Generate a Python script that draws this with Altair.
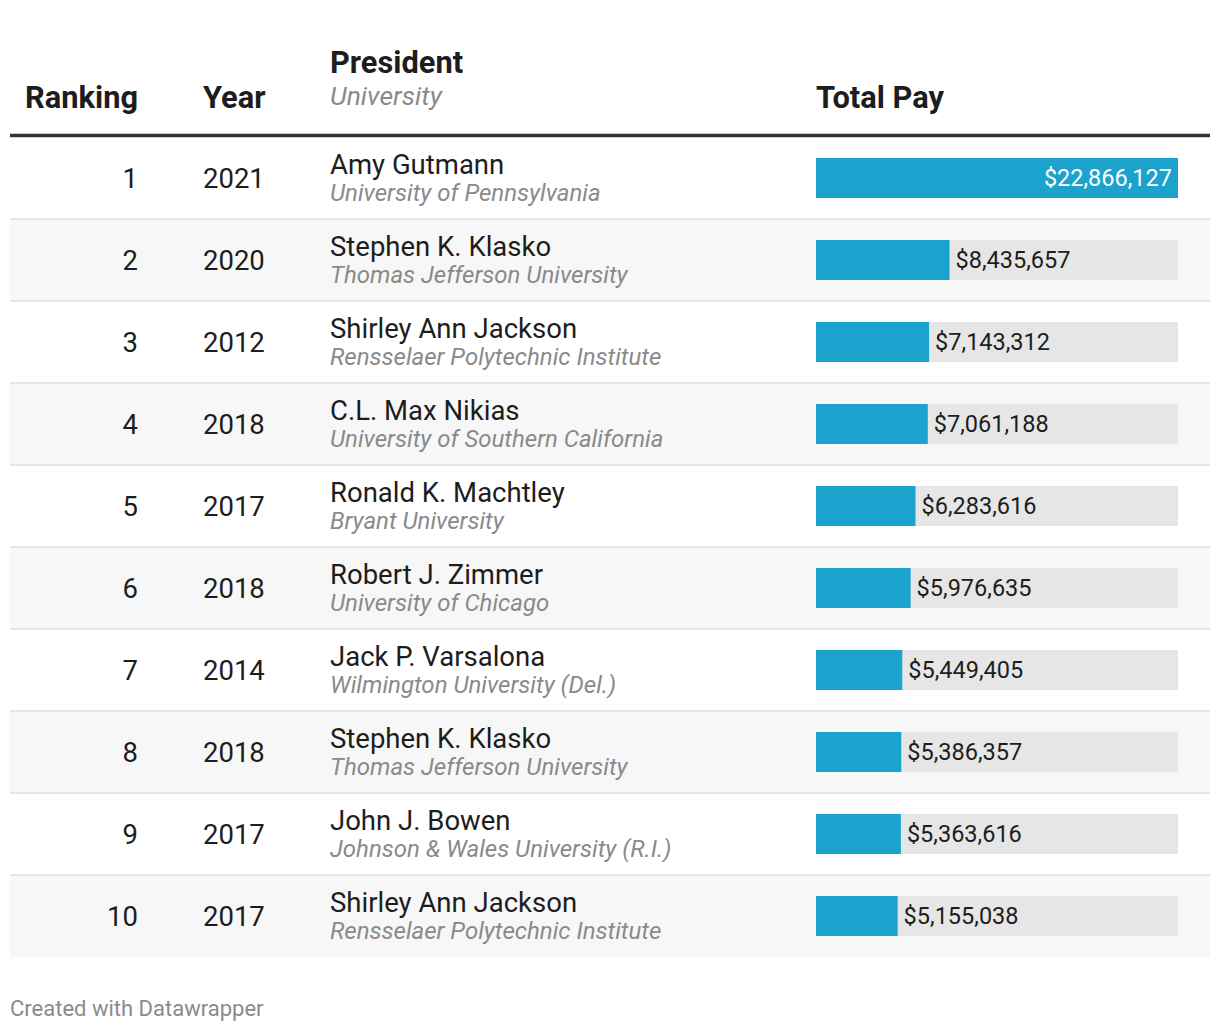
import altair as alt
import pandas as pd

ranks = [1, 2, 3, 4, 5, 6, 7, 8, 9, 10]
years = ["2021", "2020", "2012", "2018", "2017", "2018", "2014", "2018", "2017", "2017"]
presidents = ["Amy Gutmann", "Stephen K. Klasko", "Shirley Ann Jackson", "C.L. Max Nikias",
              "Ronald K. Machtley", "Robert J. Zimmer", "Jack P. Varsalona", "Stephen K. Klasko",
              "John J. Bowen", "Shirley Ann Jackson"]
universities = ["University of Pennsylvania", "Thomas Jefferson University",
                "Rensselaer Polytechnic Institute", "University of Southern California",
                "Bryant University", "University of Chicago", "Wilmington University (Del.)",
                "Thomas Jefferson University", "Johnson & Wales University (R.I.)",
                "Rensselaer Polytechnic Institute"]
total_pay = [22866127, 8435657, 7143312, 7061188, 6283616, 5976635, 5449405, 5386357,
             5363616, 5155038]

header_cols = ["Ranking", "Year", "President", "University", "Total Pay"]
footer_text = "Created with Datawrapper"

df = pd.DataFrame({"rank": ranks, "year": years, "president": presidents,
                   "university": universities, "pay": total_pay})

FONT = "Roboto"
DARK = "#1d1d1d"
GRAY = "#8a8a8a"
BLUE = "#1ba2cd"

# plot origin sits at page (10, 10) via padding 2
OX = 2
yscale = alt.Scale(domain=[1, 10], range=[168, 906], nice=False, zero=False, padding=0)
xscale = alt.Scale(domain=[0, max(total_pay)], range=[806, 1168], nice=False, zero=False,
                   padding=0)

base = alt.Chart(df)
Y = alt.Y("rank:Q", scale=yscale, axis=None)

row_bg = base.transform_filter("datum.rank % 2 == 0").transform_calculate(
    top="datum.rank - 0.5", bottom="datum.rank + 0.5"
).mark_rect(color="#f7f7f7").encode(
    y=alt.Y("top:Q", scale=yscale, axis=None), y2="bottom:Q",
    x=alt.value(0), x2=alt.value(1200))

separators = base.transform_filter("datum.rank < 10").transform_calculate(
    bottom="datum.rank + 0.5"
).mark_rule(color="#e6e6e6", strokeWidth=2).encode(
    y=alt.Y("bottom:Q", scale=yscale, axis=None),
    x=alt.value(0), x2=alt.value(1200))

track = base.transform_joinaggregate(maxpay="max(pay)").mark_bar(
    orient="horizontal", size=40, color="#e6e6e6").encode(
    x=alt.X("maxpay:Q", scale=xscale, axis=None), y=Y)

bars = base.mark_bar(orient="horizontal", size=40, color=BLUE).encode(
    x=alt.X("pay:Q", scale=xscale, axis=None), y=Y)

lab_in = base.transform_joinaggregate(maxpay="max(pay)").transform_filter(
    "datum.pay == datum.maxpay").mark_text(
    font=FONT, fontSize=23.5, color="white", align="right", baseline="alphabetic",
    dx=-6, dy=8).encode(
    x=alt.X("pay:Q", scale=xscale, axis=None), y=Y,
    text=alt.Text("pay:Q", format="$,.0f"))

lab_out = base.transform_joinaggregate(maxpay="max(pay)").transform_filter(
    "datum.pay < datum.maxpay").mark_text(
    font=FONT, fontSize=23.5, color=DARK, align="left", baseline="alphabetic",
    dx=6, dy=8).encode(
    x=alt.X("pay:Q", scale=xscale, axis=None), y=Y,
    text=alt.Text("pay:Q", format="$,.0f"))

rank_txt = base.mark_text(font=FONT, fontSize=27.5, color=DARK, align="right",
                          baseline="alphabetic", dy=10).encode(
    x=alt.value(128), y=Y, text="rank:N")

year_txt = base.mark_text(font=FONT, fontSize=27.5, color=DARK, align="left",
                          baseline="alphabetic", dy=10).encode(
    x=alt.value(193), y=Y, text="year:N")

name_txt = base.mark_text(font=FONT, fontSize=27.5, color=DARK, align="left",
                          baseline="alphabetic", dy=-4).encode(
    x=alt.value(320), y=Y, text="president:N")

univ_txt = base.mark_text(font=FONT, fontSize=24, color=GRAY, fontStyle="italic",
                          align="left", baseline="alphabetic", dy=23).encode(
    x=alt.value(320), y=Y, text="university:N")


def label(text, x, y, size, color=DARK, weight="normal", style="normal", align="left"):
    return alt.Chart(pd.DataFrame({"label": [text]})).mark_text(
        font=FONT, fontSize=size, color=color, fontWeight=weight, fontStyle=style,
        align=align, baseline="alphabetic").encode(
        x=alt.value(x), y=alt.value(y), text="label:N")


h_rank = label(header_cols[0], 128, 98, 30.8, weight="bold", align="right")
h_year = label(header_cols[1], 193, 98, 30.8, weight="bold")
h_pres = label(header_cols[2], 320, 63, 30.8, weight="bold")
h_univ = label(header_cols[3], 320, 95, 26.5, color=GRAY, style="italic")
h_pay = label(header_cols[4], 806, 98, 30.8, weight="bold")
footer = label(footer_text, 0, 1006, 22, color=GRAY)

head_line = alt.Chart(pd.DataFrame({"label": [""]})).mark_rule(
    color="#333333", strokeWidth=3.5).encode(
    y=alt.value(125.5), x=alt.value(0), x2=alt.value(1200))

chart = alt.layer(
    row_bg, separators, track, bars, lab_in, lab_out,
    rank_txt, year_txt, name_txt, univ_txt,
    head_line, h_rank, h_year, h_pres, h_univ, h_pay, footer
).properties(
    width=1200, height=1012,
    autosize=alt.AutoSizeParams(type="none"),
    padding={"left": 2, "top": 2, "right": 2, "bottom": 2},
).configure_view(stroke="transparent", strokeWidth=0, fill="white")

chart.save("out.html", embed_options={"renderer": "svg", "actions": False})
